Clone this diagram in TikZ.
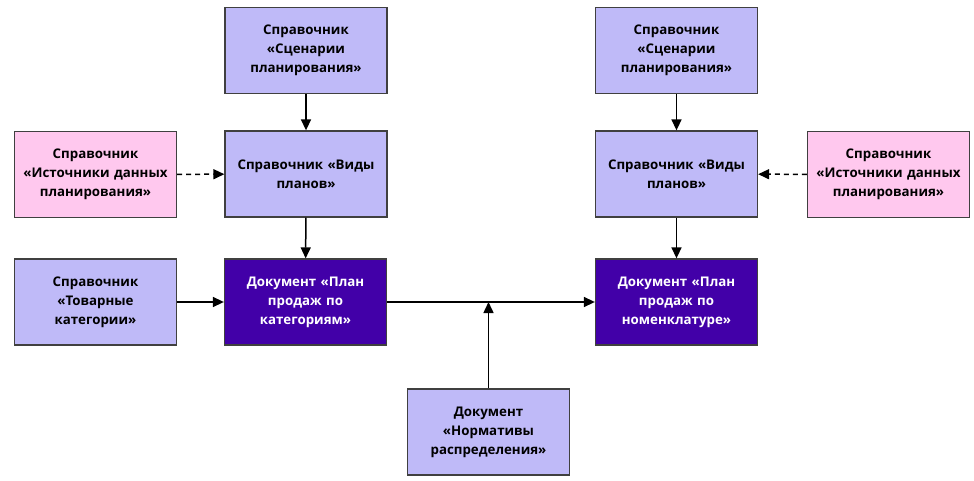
\documentclass[tikz,border=0pt]{standalone}
\usepackage{fontspec}
\setmainfont{Open Sans}
\usetikzlibrary{arrows.meta}
\definecolor{lilac}{HTML}{BFBAF8}
\definecolor{rose}{HTML}{FFC8EE}
\definecolor{indigo}{HTML}{4200A8}
\begin{document}
\begin{tikzpicture}
  [x=1pt,y=-1pt,>={Triangle[length=11pt,width=10pt]},
   every node/.style={rectangle,draw=black!75,line width=1.3pt,fill=lilac,
     minimum width=162pt,minimum height=86pt,text width=150pt,align=center,
     font=\fontsize{13.3}{19}\selectfont\bfseries},
   dark/.style={fill=indigo,text=white},
   pink/.style={fill=rose}]
  \useasboundingbox (0,0) rectangle (974,481);
  \node (s1) at (306,50.5) {Справочник\\«Сценарии\\планирования»};
  \node (v1) at (306,174) {Справочник «Виды\\планов»};
  \node[pink] (i1) at (95.5,174.5) {Справочник\\«Источники данных\\планирования»};
  \node[dark] (p1) at (305.5,302) {Документ «План\\продаж по\\категориям»};
  \node (t) at (95.5,302) {Справочник\\«Товарные\\категории»};
  \node (n) at (488.5,432) {Документ\\«Нормативы\\распределения»};
  \node[dark] (p2) at (676.5,302) {Документ «План\\продаж по\\номенклатуре»};
  \node (s2) at (676.5,50.5) {Справочник\\«Сценарии\\планирования»};
  \node (v2) at (676.5,174) {Справочник «Виды\\планов»};
  \node[pink] (i2) at (888.5,174.5) {Справочник\\«Источники данных\\планирования»};
  \coordinate (j) at (n.north |- p1.east);
  \foreach \from/\to in {s1/v1,v1/p1,t/p1,p1/p2,n/j,s2/v2,v2/p2}
    \draw[->,line width=1.5pt] (\from) -- (\to);
  \foreach \from/\to in {i1/v1,i2/v2}
    \draw[->,line width=1.5pt,dash pattern=on 5pt off 4pt] (\from) -- (\to);
\end{tikzpicture}
\end{document}
